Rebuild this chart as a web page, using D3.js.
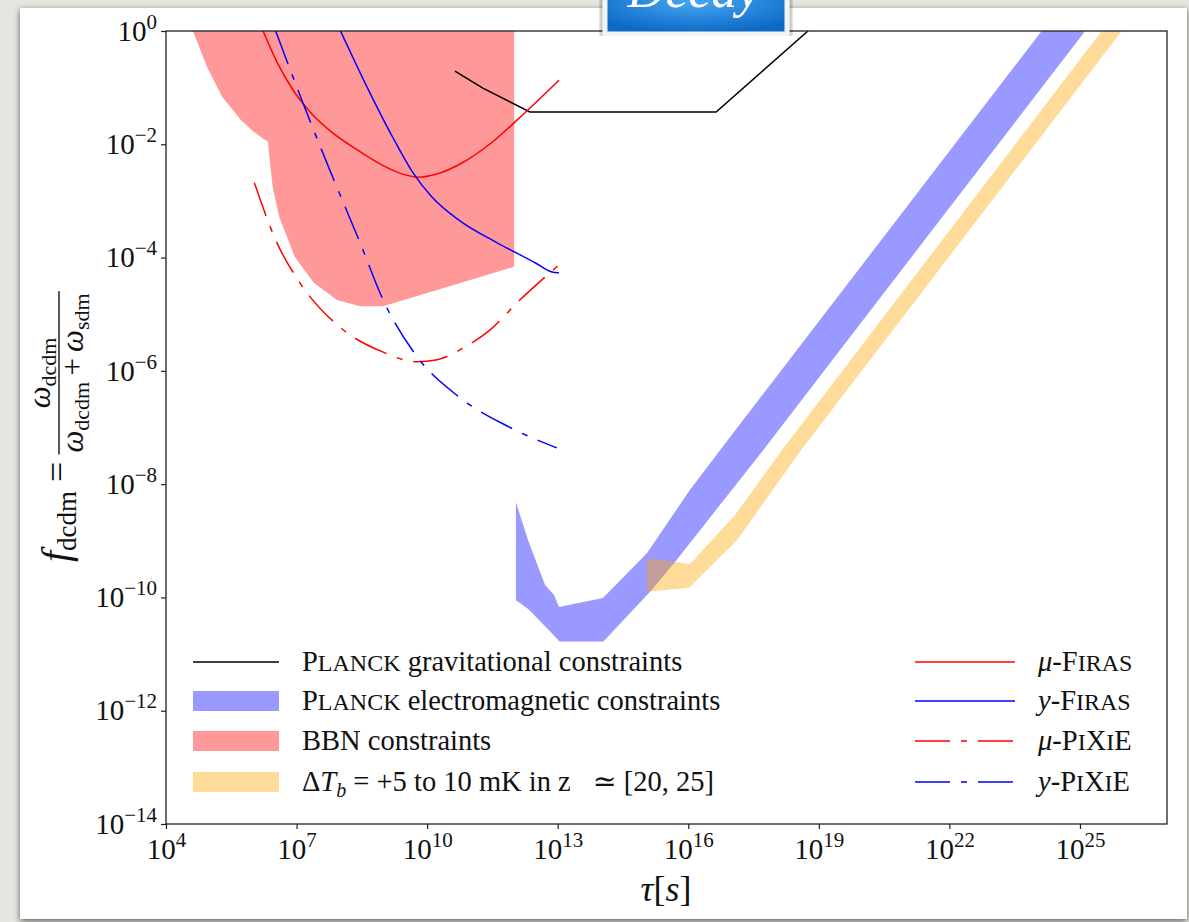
<!DOCTYPE html>
<html>
<head>
<meta charset="utf-8">
<script src="https://cdn.jsdelivr.net/npm/d3@7"></script>
<style>
  html, body { margin: 0; padding: 0; background: #e6e5e0; }
  svg { display: block; }
  text { font-family: "Liberation Serif", "DejaVu Serif", serif; white-space: pre; }
</style>
</head>
<body>
<script>
const planckGrav = [[10.64, -0.71], [11.28, -1.01], [12.36, -1.43], [16.64, -1.43], [18.75, 0]];

const bbnRegion = [[4.62, 0], [4.94, -0.63], [5.29, -1.16], [5.72, -1.57], [6.00, -1.77], [6.25, -1.91],
  [6.34, -1.95], [6.38, -2.25], [6.45, -2.75], [6.60, -3.28], [6.96, -3.99], [7.40, -4.45], [7.93, -4.75],
  [8.46, -4.86], [8.99, -4.86], [11.97, -4.17], [12.0, -4.15], [12.0, 0]];

const planckEmUpper = [[12.04, -8.32], [12.32, -8.99], [12.71, -9.78], [12.92, -9.96], [13.03, -10.17],
  [14.04, -10.01], [15.05, -9.22], [16.04, -8.10], [16.73, -7.40], [24.12, 0]];
const planckEmLower = [[12.04, -10.05], [12.33, -10.21], [12.86, -10.63], [13.04, -10.78], [14.05, -10.78],
  [15.16, -9.87], [15.70, -9.37], [17.72, -7.40], [25.12, 0]];

const deltaTbUpper = [[15.05, -9.31], [16.04, -9.41], [17.07, -8.55], [18.15, -7.40], [25.50, 0]];
const deltaTbLower = [[15.05, -9.90], [16.02, -9.83], [17.12, -8.99], [18.59, -7.40], [25.96, 0]];

const muFiras = [[6.23, 0], [6.55, -0.55], [6.90, -1.02], [7.30, -1.42], [7.80, -1.78], [8.40, -2.10],
  [9.00, -2.38], [9.50, -2.54], [9.80, -2.58], [10.20, -2.53], [10.80, -2.33], [11.50, -1.96],
  [12.07, -1.57], [13.03, -0.87]];
const yFiras = [[8.01, 0], [8.62, -0.99], [9.24, -1.92], [9.68, -2.51], [10.11, -2.93], [10.73, -3.34],
  [11.61, -3.74], [12.50, -4.10], [12.85, -4.25], [13.03, -4.27]];
const muPixie = [[6.03, -2.68], [6.52, -3.69], [7.08, -4.45], [8.00, -5.23], [8.99, -5.67], [9.77, -5.84],
  [10.20, -5.81], [10.82, -5.60], [11.44, -5.28], [12.13, -4.75], [13.03, -4.13]];
const yPixie = [[6.52, 0], [7.04, -1.06], [7.75, -2.43], [8.46, -3.74], [8.99, -4.75], [9.77, -5.75],
  [10.73, -6.46], [11.88, -6.99], [12.98, -7.36]];

const xTickExp = [4, 7, 10, 13, 16, 19, 22, 25];
const yTickExp = [0, -2, -4, -6, -8, -10, -12, -14];

// sc = small capital (drawn as smaller upper case)
const leftLegend = [
  [{t: "P"}, {t: "LANCK", sc: 1}, {t: " gravitational constraints"}],
  [{t: "P"}, {t: "LANCK", sc: 1}, {t: " electromagnetic constraints"}],
  [{t: "BBN constraints"}],
  [{t: "Δ"}, {t: "T", i: 1}, {t: "b", i: 1, sub: 1}, {t: " = +5 to 10 mK in z"}, {t: "≃ [20, 25]", dx: 22}]
];
const rightLegend = [
  [{t: "μ", i: 1}, {t: "-F"}, {t: "IRAS", sc: 1}],
  [{t: "y", i: 1}, {t: "-F"}, {t: "IRAS", sc: 1}],
  [{t: "μ", i: 1}, {t: "-P"}, {t: "I", sc: 1}, {t: "X"}, {t: "I", sc: 1}, {t: "E"}],
  [{t: "y", i: 1}, {t: "-P"}, {t: "I", sc: 1}, {t: "X"}, {t: "I", sc: 1}, {t: "E"}]
];

const W = 1189, H = 922;
const svg = d3.select("body").append("svg").attr("width", W).attr("height", H);
const defs = svg.append("defs");

const sh = defs.append("filter").attr("id", "shadow")
  .attr("x", "-3%").attr("y", "-3%").attr("width", "106%").attr("height", "106%");
sh.append("feDropShadow").attr("dx", 0).attr("dy", 2).attr("stdDeviation", 3)
  .attr("flood-color", "#000").attr("flood-opacity", 0.6);

const grad = defs.append("radialGradient").attr("id", "badge").attr("cx", "50%").attr("cy", "30%").attr("r", "70%");
grad.append("stop").attr("offset", "0%").attr("stop-color", "#47a6f0");
grad.append("stop").attr("offset", "100%").attr("stop-color", "#0b67c6");

// paper + card
svg.append("rect").attr("width", W).attr("height", H).attr("fill", "#e6e5e0");
svg.append("rect").attr("x", 20).attr("y", 8).attr("width", 1167).attr("height", 911)
  .attr("fill", "#fff").attr("filter", "url(#shadow)");

const x = d3.scaleLog().domain([1e4, 1e27]).range([166, 1167]);
const y = d3.scaleLog().domain([1e-14, 1]).range([824, 31]);

defs.append("clipPath").attr("id", "plot").append("rect")
  .attr("x", 166).attr("y", 31).attr("width", 1001).attr("height", 793);

const line = d3.line().x(d => x(10 ** d[0])).y(d => y(10 ** d[1]));
const smooth = d3.line().x(d => x(10 ** d[0])).y(d => y(10 ** d[1])).curve(d3.curveMonotoneX);

const plot = svg.append("g").attr("clip-path", "url(#plot)");

// filled regions
plot.append("path").attr("d", line(planckEmUpper.concat(planckEmLower.slice().reverse())) + "Z")
  .attr("fill", "blue").attr("fill-opacity", 0.4);
plot.append("path").attr("d", line(bbnRegion) + "Z")
  .attr("fill", "red").attr("fill-opacity", 0.4);
plot.append("path").attr("d", line(deltaTbUpper.concat(deltaTbLower.slice().reverse())) + "Z")
  .attr("fill", "orange").attr("fill-opacity", 0.4);

// lines
plot.append("path").attr("d", line(planckGrav)).attr("fill", "none").attr("stroke", "black").attr("stroke-width", 1.5);
const dashdot = "35,11,6,11";
[[muFiras, "red", null], [yFiras, "blue", null], [muPixie, "red", dashdot], [yPixie, "blue", dashdot]]
  .forEach(([data, col, dash]) => {
    plot.append("path").attr("d", smooth(data)).attr("fill", "none")
      .attr("stroke", col).attr("stroke-width", 1.5).attr("stroke-dasharray", dash);
  });

// axes
function powLabel(sel, anchor) {
  sel.each(function (d) {
    const e = Math.round(Math.log10(d));
    const t = d3.select(this).text(null).attr("font-size", 29).attr("fill", "#111").attr("text-anchor", anchor);
    t.append("tspan").text("10");
    t.append("tspan").attr("font-size", 21).attr("dy", -12).text(String(e).replace("-", "−"));
  });
}

const xAxis = d3.axisBottom(x).tickValues(xTickExp.map(e => 10 ** e)).tickSize(5).tickPadding(9).tickFormat(() => "");
const gx = svg.append("g").attr("transform", "translate(0,824)").style("color", "#222").call(xAxis);
gx.select(".domain").remove();
gx.selectAll(".tick line").attr("stroke-width", 1.2);
gx.selectAll(".tick text").call(powLabel, "middle");

const yAxis = d3.axisLeft(y).tickValues(yTickExp.map(e => 10 ** e)).tickSize(5).tickPadding(4).tickFormat(() => "");
const gy = svg.append("g").attr("transform", "translate(166,0)").style("color", "#222").call(yAxis);
gy.select(".domain").remove();
gy.selectAll(".tick line").attr("stroke-width", 1.2);
gy.selectAll(".tick text").call(powLabel, "end");

svg.append("rect").attr("x", 166).attr("y", 31).attr("width", 1001).attr("height", 793)
  .attr("fill", "none").attr("stroke", "#222").attr("stroke-width", 1.3);

// axis titles
const xt = svg.append("text").attr("x", 666).attr("y", 901).attr("text-anchor", "middle")
  .attr("font-size", 36).attr("fill", "#111");
xt.append("tspan").attr("font-style", "italic").text("τ");
xt.append("tspan").text("[");
xt.append("tspan").attr("font-style", "italic").text("s");
xt.append("tspan").text("]");

// y label, rotated: local x = -pageY, local y = pageX
const yl = svg.append("g").attr("transform", "rotate(-90)").attr("fill", "#111");
const lhs = yl.append("text").attr("x", -562).attr("y", 69).attr("font-size", 40);
lhs.append("tspan").attr("font-style", "italic").text("f");
lhs.append("tspan").attr("font-size", 27).attr("dy", 7).text("dcdm");
lhs.append("tspan").attr("dy", -7).attr("font-size", 36).text(" = ");
const fracStart = -562 + lhs.node().getComputedTextLength() - 2;

function omega(txt, sub) {
  txt.append("tspan").attr("font-style", "italic").text("ω");
  txt.append("tspan").attr("font-size", 22).attr("dy", 6).text(sub);
}
const den = yl.append("text").attr("y", 83).attr("font-size", 31);
omega(den, "dcdm");
den.append("tspan").attr("dy", -6).text("\u2009+\u2009");
omega(den, "sdm");
const denW = den.node().getComputedTextLength();
const barLen = denW + 4;
const fracMid = fracStart + barLen / 2;
den.attr("x", fracMid).attr("text-anchor", "middle");
const num = yl.append("text").attr("x", fracMid).attr("y", 50).attr("font-size", 31).attr("text-anchor", "middle");
omega(num, "dcdm");
yl.append("line").attr("x1", fracStart).attr("x2", fracStart + barLen).attr("y1", 59).attr("y2", 59)
  .attr("stroke", "#111").attr("stroke-width", 1.4);

// legends
function rich(g, px, py, parts) {
  const t = g.append("text").attr("x", px).attr("y", py).attr("font-size", 28.5).attr("fill", "#111");
  let shifted = 0;
  parts.forEach(p => {
    const s = t.append("tspan").text(p.t);
    if (p.i) s.attr("font-style", "italic");
    if (p.sc) s.attr("font-size", 24);
    if (p.dx) s.attr("dx", p.dx);
    if (p.sub) { s.attr("font-size", 20).attr("dy", 6); shifted = 6; }
    else if (shifted) { s.attr("dy", -shifted); shifted = 0; }
  });
}

const legRows = [662, 701, 741, 782];
const leg = svg.append("g");
leg.append("line").attr("x1", 193).attr("x2", 279).attr("y1", legRows[0]).attr("y2", legRows[0])
  .attr("stroke", "black").attr("stroke-width", 1.5);
[["blue", 0.4], ["red", 0.4], ["orange", 0.4]].forEach(([c, a], i) => {
  leg.append("rect").attr("x", 193).attr("y", legRows[i + 1] - 10).attr("width", 86).attr("height", 20)
    .attr("fill", c).attr("fill-opacity", a);
});
leftLegend.forEach((parts, i) => rich(leg, 302, legRows[i] + 9, parts));

[["red", null], ["blue", null], ["red", dashdot], ["blue", dashdot]].forEach(([c, dash], i) => {
  leg.append("line").attr("x1", 915).attr("x2", 1015).attr("y1", legRows[i]).attr("y2", legRows[i])
    .attr("stroke", c).attr("stroke-width", 1.5).attr("stroke-dasharray", dash);
});
rightLegend.forEach((parts, i) => rich(leg, 1038, legRows[i] + 9, parts));

// title badge at the top of the slide
const badge = svg.append("g").attr("filter", "url(#shadow)");
badge.append("rect").attr("x", 605).attr("y", -12).attr("width", 182).attr("height", 46)
  .attr("fill", "url(#badge)").attr("stroke", "#f4f4f2").attr("stroke-width", 5);
svg.append("text").attr("x", 694).attr("y", 7).attr("text-anchor", "middle")
  .attr("font-size", 52).attr("font-style", "italic").attr("fill", "#fff")
  .attr("font-family", "DejaVu Serif").text("Decay");
</script>
</body>
</html>
